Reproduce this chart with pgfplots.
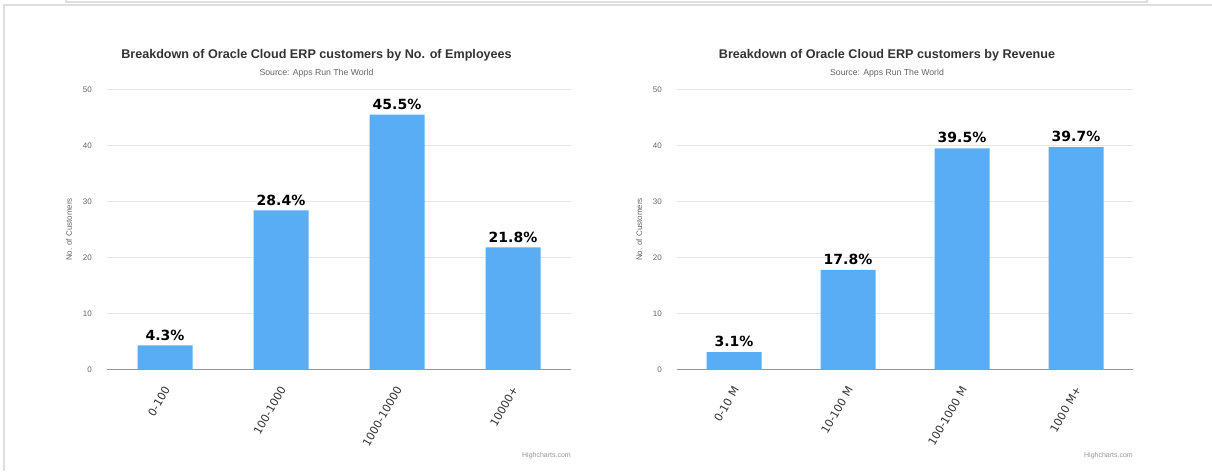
\documentclass[border=0pt]{standalone}
\usepackage{pgfplots}
\pgfplotsset{compat=1.18}
\usepackage{fontspec}
\setmainfont{Liberation Sans}
\newfontfamily\dvs{DejaVu Sans}
\definecolor{barblue}{RGB}{88,173,245}
\definecolor{gridc}{RGB}{230,230,230}
\definecolor{axisc}{RGB}{150,150,150}
\definecolor{titlec}{RGB}{51,51,51}
\definecolor{subc}{RGB}{102,102,102}
\definecolor{framec}{RGB}{222,222,222}
\pgfplotsset{
  hcbar/.style={
    scale only axis,
    height=280pt,
    ymin=0, ymax=50,
    xmin=-0.5, xmax=3.5,
    ytick={0,10,20,30,40,50},
    xtick={0,1,2,3},
    /pgf/number format/assume math mode=true,
    ymajorgrids,
    grid style={gridc, line width=0.8pt},
    axis lines=left,
    axis line style={-},
    y axis line style={draw=none},
    x axis line style={axisc, line width=1.2pt},
    major tick length=0pt,
    yticklabel style={font=\fontsize{8}{8}\selectfont, text=subc, anchor=east, inner sep=0pt, xshift=-15pt},
    xticklabel style={font=\dvs\fontsize{11}{11}\selectfont, text=titlec, yshift=-18pt, xshift=2pt, rotate=60, anchor=east, inner sep=0pt},
    ylabel={No. of Customers},
    ylabel style={font=\fontsize{8}{8}\selectfont, text=subc, anchor=center},
    ybar, bar width=55pt,
    point meta=explicit symbolic,
    nodes near coords,
    nodes near coords style={font=\dvs\bfseries\fontsize{14}{14}\selectfont, text=black, anchor=south, inner sep=5pt},
  }
}
\newcommand{\wsp}{\kern0.32em}
\begin{document}
\begin{tikzpicture}[x=1pt,y=1pt]
\useasboundingbox (0,0) rectangle (1212,471);
\fill[white] (0,0) rectangle (1212,471);
% frame
\draw[framec, line width=1.5pt] (4,0) -- (4,466) -- (1212,466);
\draw[framec, line width=1.2pt] (66,471.5) -- (66,469) -- (1147,469) -- (1147,471.5);

\begin{axis}[hcbar, at={(107pt,101.5pt)}, anchor=south west, width=464pt,
  xticklabels={0-100,100-1000,1000-10000,10000+},
  ylabel style={at={(axis description cs:-0.082,0.5)}}]
\addplot[fill=barblue, draw=none] coordinates {(0,4.3) [4.3\%] (1,28.4) [28.4\%] (2,45.5) [45.5\%] (3,21.8) [21.8\%]};
\end{axis}

\begin{axis}[hcbar, at={(677pt,101.5pt)}, anchor=south west, width=456pt,
  xticklabels={0-10\wsp M,10-100\wsp M,100-1000\wsp M,1000\wsp M+},
  ylabel style={at={(axis description cs:-0.083,0.5)}}]
\addplot[fill=barblue, draw=none] coordinates {(0,3.1) [3.1\%] (1,17.8) [17.8\%] (2,39.5) [39.5\%] (3,39.7) [39.7\%]};
\end{axis}

% titles
\node[font=\bfseries\fontsize{12.6}{12.6}\selectfont, text=titlec] at (316.5,416) {Breakdown of Oracle Cloud ERP customers by No. of Employees};
\node[font=\fontsize{8.7}{8.7}\selectfont, text=subc] at (316.5,398) {Source: Apps Run The World};
\node[font=\bfseries\fontsize{12.6}{12.6}\selectfont, text=titlec] at (887,416) {Breakdown of Oracle Cloud ERP customers by Revenue};
\node[font=\fontsize{8.7}{8.7}\selectfont, text=subc] at (887,398) {Source: Apps Run The World};
% credits
\node[font=\fontsize{7}{7}\selectfont, text=axisc, anchor=east, inner sep=0pt] at (571,15) {Highcharts.com};
\node[font=\fontsize{7}{7}\selectfont, text=axisc, anchor=east, inner sep=0pt] at (1133,15) {Highcharts.com};
\end{tikzpicture}
\end{document}
